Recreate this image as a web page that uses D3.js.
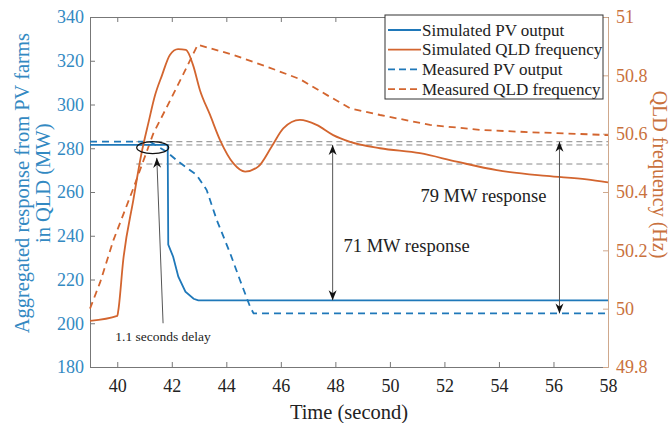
<!DOCTYPE html>
<html>
<head>
<meta charset="utf-8">
<script src="https://cdn.jsdelivr.net/npm/d3@7"></script>
<style>
  body { margin: 0; background: #fff; }
  text { font-family: "Liberation Serif", "Times New Roman", serif; }
</style>
</head>
<body>
<div id="chart"></div>
<script>
// valores
const simPvTime = [39, 41.85, 41.87, 42.05, 42.24, 42.5, 42.8, 42.97, 58];
const simPv     = [281.5, 281.5, 236, 230.4, 221.3, 214.4, 211.2, 210.5, 210.5];

const measPvTime = [39, 41.2, 41.81, 42.24, 42.91, 43.28, 43.65, 44.14, 44.5, 44.87, 45.0, 58];
const measPv     = [283, 283, 278.4, 273.9, 267.8, 260.9, 247.2, 232, 219.8, 207.6, 204.5, 204.5];

const simFreqTime = [39, 40, 40.04, 40.22, 40.59, 40.89, 41.14, 41.38, 41.64, 41.93, 42.23, 42.52, 42.78, 43.03, 43.4,
  43.77, 44.26, 44.69, 45.17, 45.66, 46.09, 46.7, 47.31, 47.92, 48.54, 49.64, 51.1, 52.45, 53.92, 55.75, 57.22, 58];
const simFreq = [49.958, 49.975, 49.995, 50.167, 50.373, 50.533, 50.636, 50.73, 50.8, 50.87, 50.89, 50.887, 50.835, 50.75, 50.665,
  50.578, 50.498, 50.47, 50.487, 50.555, 50.618, 50.647, 50.63, 50.595, 50.572, 50.55, 50.533, 50.504, 50.475, 50.455, 50.443, 50.433];

const measFreqTime = [39, 39.37, 39.86, 40.58, 41.32, 41.81, 42.4, 42.95, 44.26, 45.48, 46.7, 47.68, 48.54, 49.64, 51.47, 53.3, 55.14, 56.97, 58];
const measFreq     = [50.0, 50.09, 50.235, 50.41, 50.6, 50.69, 50.8, 50.905, 50.87, 50.83, 50.787, 50.733, 50.687, 50.664, 50.63, 50.613, 50.605, 50.599, 50.595];

// lineas de referencia grises
const refLevels = [283, 281.5, 272.8];
const refStart = 40.7;

const xTicks = [40, 42, 44, 46, 48, 50, 52, 54, 56, 58];
const yLeftTicks = [180, 200, 220, 240, 260, 280, 300, 320, 340];
const yRightTicks = [49.8, 50, 50.2, 50.4, 50.6, 50.8, 51];

const legendNames = ['Simulated PV output', 'Simulated QLD frequency', 'Measured PV output', 'Measured QLD frequency'];

const blue = '#1f78b9', orange = '#d3652f';
const blueText = '#3389c2', orangeText = '#c9713d';

const svgWidth = 672;
const svgHeight = 423;
const margin = { top: 17, right: 64, bottom: 56, left: 90 };
const width = svgWidth - margin.left - margin.right;
const height = svgHeight - margin.top - margin.bottom;

const root = d3.select('#chart').append('svg')
  .attr('width', svgWidth)
  .attr('height', svgHeight)
  .style('background', '#fff');

const defs = root.append('defs');
defs.append('marker')
  .attr('id', 'arr')
  .attr('viewBox', '0 0 10 10')
  .attr('refX', 10).attr('refY', 5)
  .attr('markerWidth', 10).attr('markerHeight', 10)
  .attr('markerUnits', 'userSpaceOnUse')
  .attr('orient', 'auto-start-reverse')
  .append('path')
  .attr('d', 'M0,1 L10,5 L0,9 L3,5 Z')
  .attr('fill', '#111');

const svg = root.append('g')
  .attr('transform', `translate(${margin.left},${margin.top})`);

const x = d3.scaleLinear().domain([39, 58]).range([0, width]);
const yL = d3.scaleLinear().domain([180, 340]).range([height, 0]);
const yR = d3.scaleLinear().domain([49.8, 51]).range([height, 0]);

// ejes
const xAxis = svg.append('g')
  .attr('transform', `translate(0,${height})`)
  .attr('color', '#777')
  .call(d3.axisBottom(x).tickValues(xTicks).tickSizeInner(-5).tickSizeOuter(0).tickPadding(12));
xAxis.selectAll('text').attr('fill', '#222').style('font-size', '18px');

svg.append('g')
  .attr('color', '#777')
  .call(d3.axisTop(x).tickValues(xTicks).tickSizeInner(-5).tickSizeOuter(0).tickFormat(''));

const leftAxis = svg.append('g')
  .attr('color', '#777')
  .call(d3.axisLeft(yL).tickValues(yLeftTicks).tickSizeInner(-5).tickSizeOuter(0).tickPadding(6));
leftAxis.selectAll('text').attr('fill', blueText).style('font-size', '18px');

const rightAxis = svg.append('g')
  .attr('transform', `translate(${width},0)`)
  .attr('color', '#cfa88c')
  .call(d3.axisRight(yR).tickValues(yRightTicks).tickSizeInner(-5).tickSizeOuter(0).tickPadding(8)
    .tickFormat(d => d3.format('')(+d.toFixed(1))));
rightAxis.selectAll('text').attr('fill', orangeText).style('font-size', '18px');

// lineas de referencia
svg.selectAll('.ref')
  .data(refLevels)
  .enter().append('line')
  .attr('x1', x(refStart)).attr('x2', x(58))
  .attr('y1', d => yL(d)).attr('y2', d => yL(d))
  .attr('stroke', '#8a8a8a')
  .attr('stroke-width', 1)
  .attr('stroke-dasharray', '6,4');

const lineL = d3.line().x(d => x(d[0])).y(d => yL(d[1]));
const lineR = d3.line().x(d => x(d[0])).y(d => yR(d[1]));

const series = [
  { t: measPvTime, v: measPv, gen: lineL, color: blue, dash: '7,5', curve: d3.curveLinear },
  { t: measFreqTime, v: measFreq, gen: lineR, color: orange, dash: '7,5', curve: d3.curveLinear },
  { t: simPvTime, v: simPv, gen: lineL, color: blue, dash: null, curve: d3.curveLinear },
  { t: simFreqTime, v: simFreq, gen: lineR, color: orange, dash: null, curve: d3.curveMonotoneX }
];

series.forEach(s => {
  svg.append('path')
    .datum(s.t.map((t, i) => [t, s.v[i]]))
    .attr('fill', 'none')
    .attr('stroke', s.color)
    .attr('stroke-width', 1.8)
    .attr('stroke-dasharray', s.dash)
    .attr('d', s.gen.curve(s.curve));
});

// elipse y retardo
svg.append('ellipse')
  .attr('cx', x(41.3)).attr('cy', yL(280.3))
  .attr('rx', 16).attr('ry', 6)
  .attr('fill', 'none').attr('stroke', '#111').attr('stroke-width', 1.2);

svg.append('line')
  .attr('x1', x(41.68)).attr('y1', yL(200))
  .attr('x2', x(41.45)).attr('y2', yL(275.6))
  .attr('stroke', '#555').attr('stroke-width', 1)
  .attr('marker-end', 'url(#arr)');

svg.append('text')
  .attr('x', x(41.68)).attr('y', yL(191.8))
  .attr('text-anchor', 'middle')
  .style('font-size', '13.5px')
  .attr('fill', '#222')
  .text('1.1 seconds delay');

// flechas de respuesta
[[47.9, 281.5, 210.5], [56.22, 283, 204.5]].forEach(a => {
  svg.append('line')
    .attr('x1', x(a[0])).attr('x2', x(a[0]))
    .attr('y1', yL(a[1])).attr('y2', yL(a[2]))
    .attr('stroke', '#555').attr('stroke-width', 1)
    .attr('marker-start', 'url(#arr)')
    .attr('marker-end', 'url(#arr)');
});

svg.append('text')
  .attr('x', x(48.3)).attr('y', yL(232.6))
  .style('font-size', '18.5px').attr('fill', '#222')
  .text('71 MW response');

svg.append('text')
  .attr('x', x(51.12)).attr('y', yL(255.4))
  .style('font-size', '18.5px').attr('fill', '#222')
  .text('79 MW response');

// leyenda
const lg = svg.append('g').attr('transform', `translate(${385 - margin.left},${15 - margin.top})`);
lg.append('rect')
  .attr('width', 218).attr('height', 84)
  .attr('fill', '#fff').attr('stroke', '#333').attr('stroke-width', 1);
const legendStyles = [
  { color: blue, dash: null }, { color: orange, dash: null },
  { color: blue, dash: '7,4' }, { color: orange, dash: '7,4' }
];
legendNames.forEach((name, i) => {
  const yy = 15 + i * 19.7;
  lg.append('line')
    .attr('x1', 3).attr('x2', 36).attr('y1', yy).attr('y2', yy)
    .attr('stroke', legendStyles[i].color).attr('stroke-width', 1.8)
    .attr('stroke-dasharray', legendStyles[i].dash);
  lg.append('text')
    .attr('x', 37).attr('y', yy + 5.5)
    .style('font-size', '17px').attr('fill', '#222')
    .text(name);
});

// titulos de ejes
svg.append('text')
  .attr('x', width / 2).attr('y', height + 52)
  .attr('text-anchor', 'middle')
  .style('font-size', '20.5px').attr('fill', '#222')
  .text('Time (second)');

const yLab = svg.append('text')
  .attr('transform', `translate(${-margin.left + 29},${yL(264)}) rotate(-90)`)
  .attr('text-anchor', 'middle')
  .style('font-size', '20.5px').attr('fill', blueText);
yLab.append('tspan').attr('x', 0).attr('dy', 0).text('Aggregated response from PV farms');
yLab.append('tspan').attr('x', 0).attr('dy', 21).text('in QLD (MW)');

svg.append('text')
  .attr('transform', `translate(${width + 45},${yR(50.46)}) rotate(90)`)
  .attr('text-anchor', 'middle')
  .style('font-size', '20px').attr('fill', orangeText)
  .text('QLD frequency (Hz)');
</script>
</body>
</html>
